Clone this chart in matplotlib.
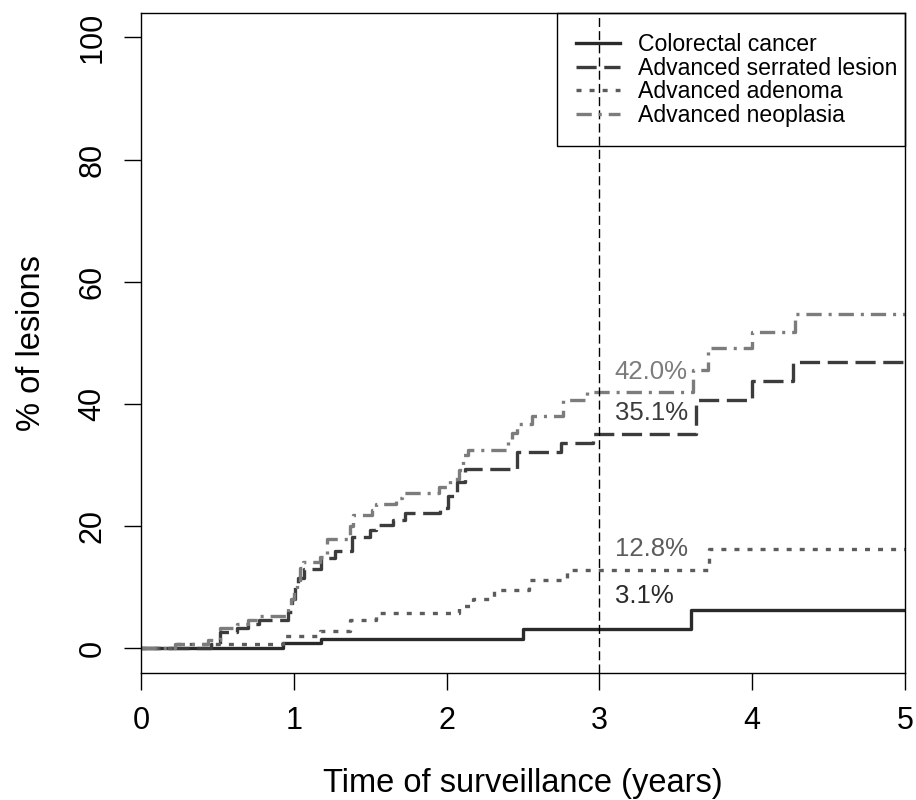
import numpy as np
import matplotlib.pyplot as plt
from matplotlib.patches import Rectangle

plt.rcParams['font.family'] = ['Liberation Sans', 'DejaVu Sans']
plt.rcParams['lines.scale_dashes'] = False

# cumulative incidence (% of lesions), step functions
crc_t = [0, 0.93, 1.18, 2.50, 3.60, 5.0]
crc_y = [0, 0.8, 1.6, 3.1, 6.3, 6.3]

ssl_t = [0, 0.46, 0.52, 0.63, 0.70, 0.77, 0.96, 0.99, 1.01, 1.03, 1.07, 1.18,
         1.27, 1.38, 1.50, 1.54, 1.65, 1.73, 1.96, 2.01, 2.07, 2.12, 2.46,
         2.75, 2.96, 3.63, 4.00, 4.27, 5.0]
ssl_y = [0, 0.7, 2.7, 3.3, 4.0, 4.6, 6.0, 8.0, 10.0, 11.5, 12.9, 14.8,
         15.9, 18.3, 19.3, 20.2, 21.0, 22.1, 23.0, 24.9, 27.3, 29.4, 32.2,
         33.6, 35.1, 40.7, 43.7, 46.9, 46.9]

aa_t = [0, 0.22, 0.93, 1.17, 1.37, 1.54, 2.08, 2.17, 2.31, 2.54, 2.79, 3.72, 5.0]
aa_y = [0, 0.7, 2.0, 2.8, 4.7, 5.7, 6.9, 8.0, 9.5, 11.2, 12.8, 16.2, 16.2]

an_t = [0, 0.22, 0.44, 0.52, 0.63, 0.70, 0.77, 0.96, 0.98, 1.00, 1.02, 1.04,
        1.06, 1.17, 1.22, 1.37, 1.39, 1.51, 1.54, 1.67, 1.71, 1.95, 2.02,
        2.08, 2.11, 2.14, 2.40, 2.43, 2.46, 2.56, 2.76, 2.92, 3.61, 3.71,
        4.00, 4.28, 5.0]
an_y = [0, 0.7, 1.4, 3.3, 4.0, 4.7, 5.3, 6.6, 8.0, 9.5, 10.9, 13.2,
        14.1, 15.0, 17.9, 20.0, 21.9, 22.7, 23.7, 24.6, 25.5, 26.4, 27.7,
        29.2, 31.7, 32.5, 34.1, 35.3, 36.7, 38.0, 40.6, 42.0, 45.6, 49.1,
        51.8, 54.8, 54.8]

labels = ['Colorectal cancer', 'Advanced serrated lesion',
          'Advanced adenoma', 'Advanced neoplasia']
times = [crc_t, ssl_t, aa_t, an_t]
values = [crc_y, ssl_y, aa_y, an_y]

colors = ['#2a2a2a', '#3c3c3c', '#5c5c5c', '#7c7c7c']
dashes = [None, (14.5, 5.5), (3.6, 5.8), (11, 5, 2.2, 5)]
label_offset = [5.4, 3.5, 3.4, 3.3]   # vertical offset of the 3-year labels

cut = 3

fig = plt.figure(figsize=(9.16, 8), dpi=100)
ax = fig.add_axes([0.1539, 0.1591, 0.8341, 0.8246])

for t, y, c, d, lab in zip(times, values, colors, dashes, labels):
    ln, = ax.step(t, y, where='post', color=c, lw=2.4, label=lab)
    if d is not None:
        ln.set_dashes(d)

ax.axvline(cut, color='black', lw=1.0, dashes=(6.5, 3))

for t, y, c, off in zip(times, values, colors, label_offset):
    v = y[np.searchsorted(t, cut, side='right') - 1]
    ax.text(cut + 0.1, v + off, f'{v:.1f}%', color=c, fontsize=18.5,
            ha='left', va='center')

ax.set_xlim(0, 5)
ax.set_ylim(-4, 104)
ax.set_xticks(range(0, 6))
ax.set_yticks(range(0, 101, 20))
ax.tick_params(axis='both', direction='out', length=12, width=1,
               labelsize=22, colors='black')
ax.tick_params(axis='x', pad=12)
ax.tick_params(axis='y', pad=12)
for lbl in ax.get_yticklabels():
    lbl.set_rotation(90)
    lbl.set_va('center')
for sp in ax.spines.values():
    sp.set_linewidth(1.0)

ax.set_xlabel('Time of surveillance (years)', fontsize=23.5, labelpad=23)
ax.set_ylabel('% of lesions', fontsize=23.5, labelpad=22)

# legend box is see-through in the original (the 3-year line crosses it)
ax.add_patch(Rectangle((0.5445, 0.7989), 0.4555, 0.2011, transform=ax.transAxes,
                       fill=False, edgecolor='black', lw=1.0, zorder=6,
                       clip_on=False))
ax.legend(loc='upper left', bbox_to_anchor=(0.5694, 0.9698), borderaxespad=0,
          fontsize=16.6, handlelength=1.9, handletextpad=0.77,
          labelspacing=0.03, borderpad=0, frameon=False)

fig.savefig('out.png', dpi=100)
